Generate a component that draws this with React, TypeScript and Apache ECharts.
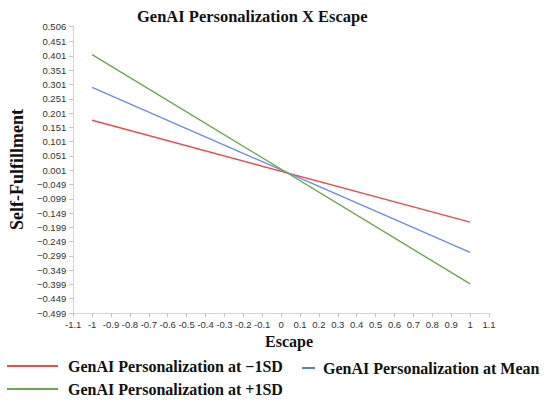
import React, { useEffect, useRef } from "react";
import * as echarts from "echarts";

const xValues = [-1, 1];
const lowSD = [0.176, -0.181];
const meanSD = [0.291, -0.287];
const highSD = [0.406, -0.397];

const seriesNames = [
  "GenAI Personalization at \u22121SD",
  "GenAI Personalization at Mean",
  "GenAI Personalization at +1SD",
];

const yTicks = [
  -0.499, -0.449, -0.399, -0.349, -0.299, -0.249, -0.199, -0.149, -0.099, -0.049,
  0.001, 0.051, 0.101, 0.151, 0.201, 0.251, 0.301, 0.351, 0.401, 0.451, 0.506,
];
const xTicks = [
  -1.1, -1, -0.9, -0.8, -0.7, -0.6, -0.5, -0.4, -0.3, -0.2, -0.1, 0, 0.1, 0.2, 0.3,
  0.4, 0.5, 0.6, 0.7, 0.8, 0.9, 1, 1.1,
];

const colors = ["#f04a4a", "#6d8cf0", "#6ea64e"];
const legendColors = ["#f04a4a", "#4f86c4", "#6ea64e"];

const serif = "'Liberation Serif', 'Times New Roman', serif";
const sans = "'Liberation Sans', Arial, sans-serif";

export default function App() {
  const ref = useRef<HTMLDivElement>(null);
  useEffect(() => {
    if (!ref.current) return;
    const chart = echarts.init(ref.current, undefined, { renderer: "svg" });
    const pairs = (ys: number[]) => xValues.map((x, i) => [x, ys[i]]);
    const legendText = {
      fontFamily: serif,
      fontWeight: "bold" as const,
      fontSize: 16,
      color: "#111",
      padding: [0, 0, 0, 5],
    };
    chart.setOption({
      animation: false,
      backgroundColor: "#ffffff",
      title: {
        text: "GenAI Personalization X Escape",
        left: 137,
        top: 8,
        padding: 0,
        textStyle: {
          fontFamily: serif,
          fontWeight: "bold",
          fontSize: 16.5,
          color: "#111",
        },
      },
      grid: { left: 57, right: 61, top: 26, bottom: 90, containLabel: false },
      xAxis: {
        type: "value",
        min: -1.1,
        max: 1.1,
        name: "Escape",
        nameLocation: "middle",
        nameGap: 20,
        nameTextStyle: {
          fontFamily: serif,
          fontWeight: "bold",
          fontSize: 16,
          color: "#111",
          padding: [0, 0, 0, 16],
        },
        axisLine: { show: true, onZero: false, lineStyle: { color: "#d4d4d4", width: 1 } },
        axisTick: {
          show: true,
          length: 4,
          customValues: xTicks,
          lineStyle: { color: "#c4c4c4" },
        },
        axisLabel: {
          customValues: xTicks,
          margin: 6,
          fontFamily: sans,
          fontSize: 9.5,
          color: "#333",
          formatter: (v: number) => {
            const r = Math.round(v * 10) / 10;
            return r < 0 ? "-" + String(-r) : String(r);
          },
        },
        splitLine: { show: false },
      },
      yAxis: {
        type: "value",
        min: -0.499,
        max: 0.506,
        name: "Self-Fulfillment",
        nameLocation: "middle",
        nameGap: 36,
        nameTextStyle: {
          fontFamily: serif,
          fontWeight: "bold",
          fontSize: 18,
          color: "#111",
        },
        axisLine: { show: true, onZero: false, lineStyle: { color: "#d4d4d4", width: 1 } },
        axisTick: {
          show: true,
          length: 4,
          customValues: yTicks,
          lineStyle: { color: "#c4c4c4" },
        },
        axisLabel: {
          customValues: yTicks,
          margin: 7,
          fontFamily: sans,
          fontSize: 9.5,
          color: "#333",
          formatter: (v: number) => {
            const s = Math.abs(v).toFixed(3);
            return v < 0 ? "\u2212" + s : s;
          },
        },
        splitLine: { show: false },
      },
      legend: [
        {
          data: [{ name: seriesNames[0], itemStyle: { color: legendColors[0] } }],
          left: 7,
          top: 358,
          padding: 0,
          icon: "rect",
          itemWidth: 51,
          itemHeight: 2,
          textStyle: legendText,
        },
        {
          data: [{ name: seriesNames[1], itemStyle: { color: legendColors[1] } }],
          left: 302,
          top: 360,
          padding: 0,
          icon: "rect",
          itemWidth: 13,
          itemHeight: 2,
          textStyle: { ...legendText, padding: [0, 0, 0, 3] },
        },
        {
          data: [{ name: seriesNames[2], itemStyle: { color: legendColors[2] } }],
          left: 7,
          top: 381,
          padding: 0,
          icon: "rect",
          itemWidth: 51,
          itemHeight: 2,
          textStyle: legendText,
        },
      ],
      series: [
        { name: seriesNames[0], data: pairs(lowSD), color: colors[0] },
        { name: seriesNames[1], data: pairs(meanSD), color: colors[1] },
        { name: seriesNames[2], data: pairs(highSD), color: colors[2] },
      ].map((s) => ({
        type: "line",
        name: s.name,
        data: s.data,
        showSymbol: false,
        symbol: "none",
        itemStyle: { color: s.color },
        lineStyle: { color: s.color, width: 1.4 },
      })),
    });
    return () => chart.dispose();
  }, []);
  return (
    <div
      ref={ref}
      style={{ position: "fixed", left: 0, top: 0, width: 550, height: 403, background: "#fff" }}
    />
  );
}
